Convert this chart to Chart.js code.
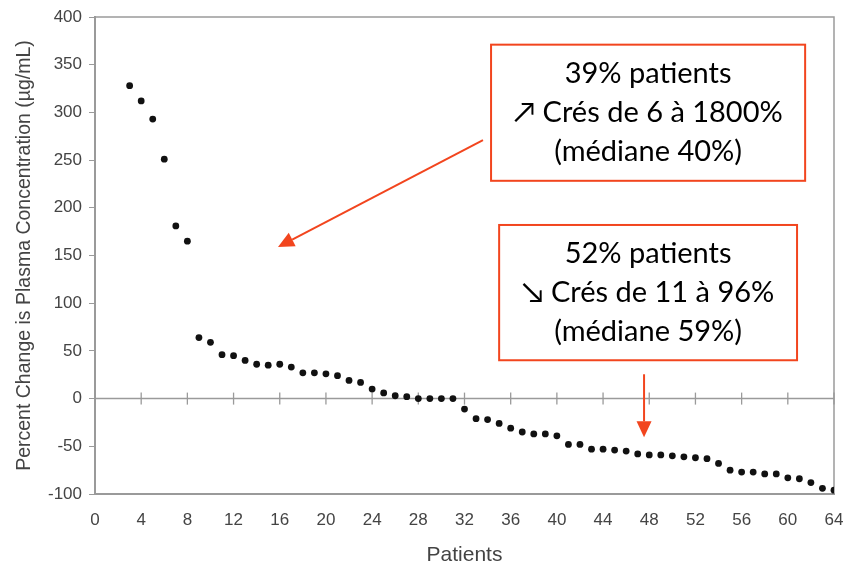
<!DOCTYPE html>
<html>
<head>
<meta charset="utf-8">
<script src="https://cdn.jsdelivr.net/npm/chart.js@4.4.1/dist/chart.umd.min.js"></script>
<style>
  html, body { margin: 0; padding: 0; background: #ffffff; }
  #wrap { width: 844px; height: 568px; }
</style>
</head>
<body>
<div id="wrap"><canvas id="chart" width="844" height="568"></canvas></div>
<script>
// Patient number (sorted by change) and percent change in plasma concentration
const patients = [3, 4, 5, 6, 7, 8, 9, 10, 11, 12, 13, 14, 15, 16, 17, 18, 19, 20, 21, 22,
  23, 24, 25, 26, 27, 28, 29, 30, 31, 32, 33, 34, 35, 36, 37, 38, 39, 40, 41, 42,
  43, 44, 45, 46, 47, 48, 49, 50, 51, 52, 53, 54, 55, 56, 57, 58, 59, 60, 61, 62, 63, 64];
const percentChange = [328, 312, 293, 251, 181, 165, 64, 59, 46, 45, 40, 36, 35, 36, 33, 27,
  27, 26, 24, 19, 17, 10, 6, 3, 2, 0, 0, 0, 0, -11, -21, -22, -26, -31, -35, -37,
  -37, -39, -48, -48, -53, -53, -54, -55, -58, -59, -59, -60, -61, -62, -63, -68,
  -75, -77, -77, -79, -79, -83, -84, -88, -94, -96];

// Axis tick labels
const xTickValues = [0, 4, 8, 12, 16, 20, 24, 28, 32, 36, 40, 44, 48, 52, 56, 60, 64];
const yTickValues = [400, 350, 300, 250, 200, 150, 100, 50, 0, -50, -100];

const xTitle = 'Patients';
const yTitle = 'Percent Change is Plasma Concentration (µg/mL)';

// Call-out texts
const noteIncrease = ['39% patients', '↗ Crés de 6 à 1800%', '(médiane 40%)'];
const noteDecrease = ['52% patients', '↘ Crés de 11 à 96%', '(médiane 59%)'];

const AXIS_GREY = '#9a9a9a';
const TEXT_GREY = '#444444';
const NOTE_RED = '#f2451e';

// Call-out boxes and arrows, placed in data units (patients, percent)
const callouts = [
  { lines: noteIncrease, box: { x0: 34.3, x1: 61.5, y0: 371, y1: 228.3 },
    arrow: { from: [33.6, 271], to: [15.85, 159] } },
  { lines: noteDecrease, box: { x0: 35.0, x1: 60.8, y0: 182, y1: 40.2 },
    arrow: { from: [47.55, 25.5], to: [47.55, -40.6] } }
];

// Zero line with crossing tick marks, plus the frame round the plot area
const frameAndZeroLine = {
  id: 'frameAndZeroLine',
  beforeDatasetsDraw(chart) {
    const { ctx, chartArea: a, scales: { x, y } } = chart;
    ctx.save();
    ctx.strokeStyle = AXIS_GREY;
    ctx.lineWidth = 1.5;
    ctx.strokeRect(a.left, a.top, a.right - a.left, a.bottom - a.top);
    const y0 = y.getPixelForValue(0);
    ctx.beginPath();
    ctx.moveTo(a.left, y0);
    ctx.lineTo(a.right, y0);
    ctx.stroke();
    ctx.lineWidth = 1.3;
    x.ticks.forEach(t => {
      const px = x.getPixelForValue(t.value);
      ctx.beginPath();
      ctx.moveTo(px, y0 - 6);
      ctx.lineTo(px, y0 + 6);
      ctx.stroke();
    });
    ctx.restore();
  }
};

function drawArrow(ctx, x1, y1, x2, y2) {
  const ang = Math.atan2(y2 - y1, x2 - x1);
  const head = 16, half = 7.5;
  const bx = x2 - head * Math.cos(ang), by = y2 - head * Math.sin(ang);
  ctx.beginPath();
  ctx.moveTo(x1, y1);
  ctx.lineTo(bx, by);
  ctx.stroke();
  ctx.beginPath();
  ctx.moveTo(x2, y2);
  ctx.lineTo(bx + half * Math.sin(ang), by - half * Math.cos(ang));
  ctx.lineTo(bx - half * Math.sin(ang), by + half * Math.cos(ang));
  ctx.closePath();
  ctx.fill();
}

const calloutPlugin = {
  id: 'calloutPlugin',
  afterDatasetsDraw(chart) {
    const { ctx, scales: { x, y } } = chart;
    ctx.save();
    callouts.forEach(c => {
      const l = x.getPixelForValue(c.box.x0), r = x.getPixelForValue(c.box.x1);
      const t = y.getPixelForValue(c.box.y0), b = y.getPixelForValue(c.box.y1);
      ctx.fillStyle = '#ffffff';
      ctx.fillRect(l, t, r - l, b - t);
      ctx.strokeStyle = NOTE_RED;
      ctx.lineWidth = 2;
      ctx.strokeRect(l, t, r - l, b - t);
      ctx.fillStyle = '#000000';
      ctx.font = '29px Lato, "DejaVu Sans", sans-serif';
      ctx.textAlign = 'center';
      ctx.textBaseline = 'middle';
      const cx = (l + r) / 2, cy = (t + b) / 2, lh = 39;
      c.lines.forEach((txt, i) => {
        ctx.fillText(txt, cx, cy + (i - 1) * lh);
      });
      ctx.strokeStyle = NOTE_RED;
      ctx.fillStyle = NOTE_RED;
      ctx.lineWidth = 2;
      drawArrow(ctx,
        x.getPixelForValue(c.arrow.from[0]), y.getPixelForValue(c.arrow.from[1]),
        x.getPixelForValue(c.arrow.to[0]), y.getPixelForValue(c.arrow.to[1]));
    });
    ctx.restore();
  }
};

new Chart(document.getElementById('chart'), {
  type: 'scatter',
  data: {
    datasets: [{
      data: patients.map((p, i) => ({ x: p, y: percentChange[i] })),
      backgroundColor: '#111111',
      borderWidth: 0,
      pointRadius: 3.4,
      pointHoverRadius: 3.4
    }]
  },
  options: {
    responsive: false,
    animation: false,
    devicePixelRatio: 1,
    layout: { padding: { left: 0, top: 17, right: 10, bottom: 0 } },
    plugins: { legend: { display: false }, tooltip: { enabled: false } },
    scales: {
      x: {
        type: 'linear',
        min: 0, max: 64,
        afterBuildTicks(scale) { scale.ticks = xTickValues.map(v => ({ value: v })); },
        afterFit(scale) { scale.height = 74; scale.paddingLeft = 0; scale.paddingRight = 0; },
        grid: { drawOnChartArea: false, drawTicks: false },
        border: { color: AXIS_GREY, width: 2 },
        ticks: { color: TEXT_GREY, padding: 16, maxRotation: 0, autoSkip: false,
          font: { family: '"Liberation Sans", Arial, sans-serif', size: 17 } },
        title: { display: true, text: xTitle, color: TEXT_GREY, padding: { top: 0, bottom: 0 },
          font: { family: '"Liberation Sans", Arial, sans-serif', size: 21 } }
      },
      y: {
        type: 'linear',
        min: -100, max: 400,
        afterBuildTicks(scale) { scale.ticks = yTickValues.map(v => ({ value: v })); },
        afterFit(scale) { scale.width = 95; scale.paddingTop = 0; scale.paddingBottom = 0; },
        grid: { drawOnChartArea: false, drawTicks: true, tickLength: 6, color: AXIS_GREY },
        border: { color: AXIS_GREY, width: 2 },
        ticks: { color: TEXT_GREY, padding: 7,
          font: { family: '"Liberation Sans", Arial, sans-serif', size: 17 } },
        title: { display: true, text: yTitle, color: TEXT_GREY, padding: { top: 13, bottom: 0 },
          font: { family: '"Liberation Sans", Arial, sans-serif', size: 19.5 } }
      }
    }
  },
  plugins: [frameAndZeroLine, calloutPlugin]
});
</script>
</body>
</html>
